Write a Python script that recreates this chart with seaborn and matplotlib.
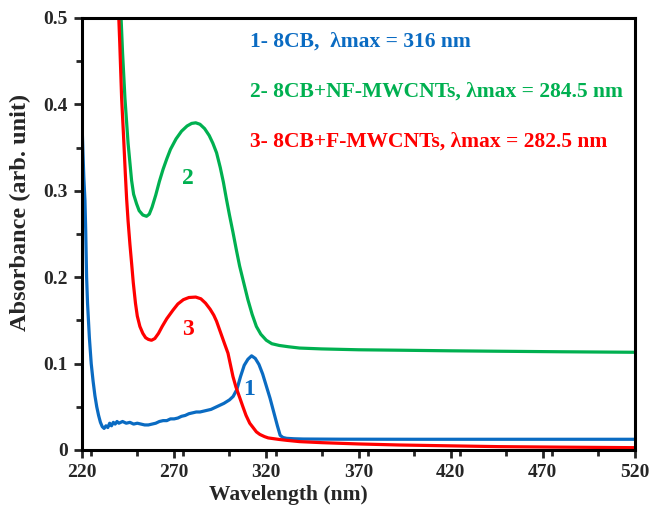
import numpy as np
import pandas as pd
import matplotlib
matplotlib.use("Agg")
import matplotlib.pyplot as plt
from matplotlib.ticker import MultipleLocator
import seaborn as sns

# ---- data ----
wl_1 = [220, 220.5, 221, 221.6, 222, 222.5, 223, 223.5, 224, 225, 226, 227, 228, 229, 230, 231, 232,
        233, 234, 235, 236, 237, 238, 239, 240, 242, 244, 246, 248, 250, 252, 254, 256, 258, 260,
        262, 264, 266, 268, 270, 272, 274, 276, 278, 280, 282, 284, 286, 288, 290, 292, 294, 297,
        300, 302, 304, 306, 308, 310, 312, 314, 316, 318, 320, 322, 324, 326, 327.5, 329, 331,
        335, 340, 360, 400, 450, 520]
abs_1 = [0.380, 0.345, 0.315, 0.289, 0.255, 0.200, 0.170, 0.150, 0.130, 0.100, 0.080, 0.063, 0.050,
         0.040, 0.032, 0.027, 0.025, 0.028, 0.026, 0.031, 0.028, 0.032, 0.030, 0.033, 0.031, 0.033,
         0.031, 0.032, 0.030, 0.031, 0.030, 0.029, 0.029, 0.030, 0.031, 0.033, 0.034, 0.034, 0.036,
         0.036, 0.037, 0.039, 0.040, 0.042, 0.043, 0.044, 0.044, 0.045, 0.046, 0.047, 0.049, 0.051,
         0.054, 0.058, 0.062, 0.070, 0.085, 0.098, 0.105, 0.109, 0.106, 0.099, 0.088, 0.074, 0.060,
         0.044, 0.028, 0.017, 0.0145, 0.0135, 0.013, 0.0127, 0.0125, 0.0124, 0.0124, 0.0124]

wl_2 = [240.8, 242, 243.3, 245, 246.9, 248, 249.6, 251, 253, 255, 256.5, 258, 260, 262, 264, 266,
        268, 271, 274, 277, 279.5, 281.7, 284, 286.5, 289, 291, 293, 295, 296.7, 298.3, 300, 301.9,
        303.7, 305.5, 307.8, 310, 312.3, 314.6, 317, 320, 323, 327, 332, 338, 350, 370, 392, 420,
        446, 480, 520]
abs_2 = [0.520, 0.460, 0.407, 0.355, 0.312, 0.296, 0.285, 0.277, 0.272, 0.2705, 0.273, 0.281, 0.295,
         0.311, 0.325, 0.337, 0.348, 0.360, 0.369, 0.375, 0.378, 0.3787, 0.377, 0.372, 0.364, 0.355,
         0.344, 0.327, 0.310, 0.291, 0.272, 0.252, 0.232, 0.213, 0.193, 0.174, 0.157, 0.143, 0.134,
         0.127, 0.123, 0.121, 0.1195, 0.118, 0.117, 0.116, 0.1155, 0.1148, 0.1143, 0.1137, 0.1131]

wl_3 = [239.6, 240.5, 241.5, 242.5, 243.5, 244.2, 245, 246, 247, 247.8, 249, 250, 251.4, 253, 254.5,
        256, 257.7, 259.5, 261.5, 263.5, 266, 269.4, 272, 275, 278, 281.7, 284.5, 287, 289.5, 291.5,
        293, 294.5, 296, 297.5, 299.2, 300.5, 301.9, 303.5, 305.5, 307.3, 309, 311, 312.8, 314.6,
        316.5, 319, 321, 323.6, 327, 331, 338, 350, 370, 392, 420, 446, 480, 520]
abs_3 = [0.520, 0.470, 0.407, 0.365, 0.320, 0.291, 0.265, 0.238, 0.214, 0.194, 0.170, 0.155, 0.143,
         0.135, 0.130, 0.128, 0.127, 0.129, 0.135, 0.143, 0.152, 0.162, 0.169, 0.174, 0.1765, 0.177,
         0.175, 0.170, 0.163, 0.156, 0.149, 0.140, 0.131, 0.122, 0.112, 0.099, 0.085, 0.073, 0.061,
         0.050, 0.040, 0.031, 0.026, 0.021, 0.018, 0.0155, 0.014, 0.0132, 0.0122, 0.0112, 0.0097,
         0.0085, 0.007, 0.0058, 0.0048, 0.0039, 0.0033, 0.0027]

series_names = ["1", "2", "3"]
series_colors = ["#0A6BC2", "#00B050", "#FF0000"]
legend_lines = ["1- 8CB,  \u03bbmax = 316 nm",
                "2- 8CB+NF-MWCNTs, \u03bbmax = 284.5 nm",
                "3- 8CB+F-MWCNTs, \u03bbmax = 282.5 nm"]
label_pos_x = [310.6, 277.6, 277.6]
label_pos_y = [0.070, 0.314, 0.1395]
x_ticks = [220, 270, 320, 370, 420, 470, 520]
y_ticks = [0, 0.1, 0.2, 0.3, 0.4, 0.5]
y_tick_labels = ["0", "0.1", "0.2", "0.3", "0.4", "0.5"]

# ---- style ----
sns.set_style("white")
plt.rcParams["font.family"] = ["Liberation Serif", "DejaVu Serif"]
plt.rcParams["font.weight"] = "bold"

fig = plt.figure(figsize=(6.51, 5.09), dpi=100)
ax = fig.add_axes([82 / 651, 59 / 509, 553 / 651, 432 / 509])

frames = [pd.DataFrame({"Wavelength": w, "Absorbance": a})
          for w, a in [(wl_1, abs_1), (wl_2, abs_2), (wl_3, abs_3)]]
for df, col in zip(frames, series_colors):
    sns.lineplot(data=df, x="Wavelength", y="Absorbance", ax=ax, color=col,
                 linewidth=2.3, sort=False, estimator=None)

ax.set_xlim(220, 520)
ax.set_ylim(0, 0.5)
ax.set_xticks(x_ticks)
ax.set_xticklabels([str(t) for t in x_ticks])
ax.set_yticks(y_ticks)
ax.set_yticklabels(y_tick_labels)
ax.xaxis.set_minor_locator(MultipleLocator(25))
ax.yaxis.set_minor_locator(MultipleLocator(0.05))
ax.tick_params(axis="both", which="major", direction="out", length=6, width=2,
               labelsize=14, bottom=True, left=True, top=False, right=False, pad=4)
ax.tick_params(axis="both", which="minor", direction="out", length=4, width=2,
               bottom=True, left=True, top=False, right=False)
for lbl in ax.get_xticklabels() + ax.get_yticklabels():
    lbl.set_fontweight("bold")
for sp in ax.spines.values():
    sp.set_linewidth(2.2)
    sp.set_color("black")

ax.set_xlabel("")
ax.set_ylabel("")
fig.text(288 / 651, 1 - 485 / 509, "Wavelength (nm)", fontsize=15.5, fontweight="bold",
         ha="center", va="top")
fig.text(20 / 651, 1 - 212 / 509, "Absorbance (arb. unit)", fontsize=17.5, fontweight="bold",
         ha="center", va="center", rotation=90)

for name, col, lx, ly in zip(series_names, series_colors, label_pos_x, label_pos_y):
    ax.text(lx, ly, name, color=col, fontsize=17, fontweight="bold",
            ha="center", va="center")

leg_y = [0.473, 0.415, 0.357]
for txt, col, yy in zip(legend_lines, series_colors, leg_y):
    ax.text(311, yy, txt, color=col, fontsize=15.5, fontweight="bold",
            ha="left", va="center")

fig.savefig("out.png", dpi=100)
